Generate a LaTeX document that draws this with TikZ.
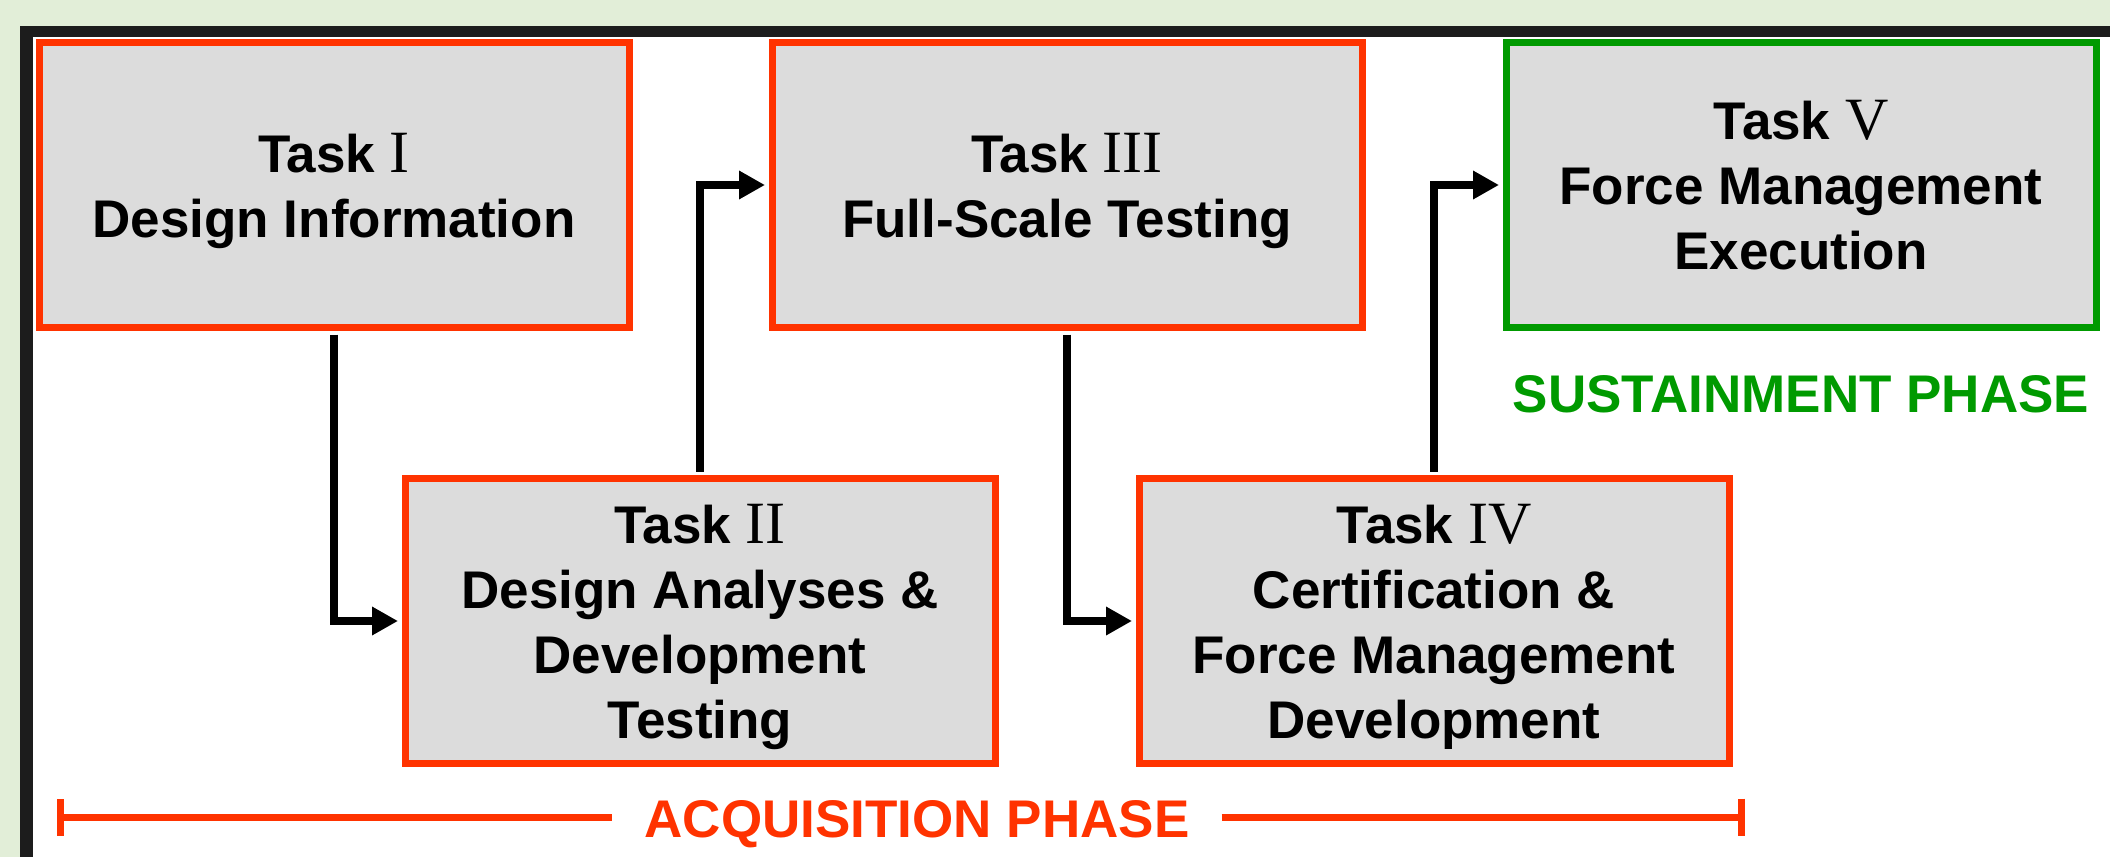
\documentclass[tikz,border=0pt]{standalone}
\usepackage{fontspec}
\usepackage{xcolor}
\setmainfont{Liberation Sans}
\newfontfamily\numeralfont{Liberation Serif}
\usetikzlibrary{arrows.meta}

\definecolor{pagegreen}{HTML}{E2EED8}
\definecolor{framegray}{HTML}{1C1C1C}
\definecolor{boxgray}{HTML}{DCDCDC}
\definecolor{acqred}{HTML}{FF3300}
\definecolor{susgreen}{HTML}{009A00}

\newcommand{\tasknum}[1]{{\fontsize{60}{65}\numeralfont\mdseries #1}}

\tikzset{
	taskbox/.style={draw=acqred, fill=boxgray, line width=7pt, minimum width=590pt, minimum height=285pt,
		align=center, text depth=0pt, font=\fontsize{53}{65}\selectfont\bfseries},
	sustainbox/.style={taskbox, draw=susgreen},
	flowline/.style={line width=8pt, -{Triangle[length=26pt,width=27pt]}, shorten >=3.5pt, shorten <=3.5pt},
	phaselabel/.style={font=\fontsize{53}{63}\selectfont\bfseries, inner sep=0pt}
}

\begin{document}
\begin{tikzpicture}[x=1pt, y=-1pt]
			\useasboundingbox (0,0) rectangle (2110,857);
			% page and frame
			\fill[pagegreen] (0,0) rectangle (2110,857);
			\fill[framegray] (20,26) rectangle (2110,857);
			\fill[white] (33,37) rectangle (2110,857);

			% tasks
			\node[taskbox] (t1) at (334,185) {Task \tasknum{I}\\Design Information};
			\node[taskbox] (t2) at (700,621) {Task \tasknum{II}\\Design Analyses \&\\Development\\Testing};
			\node[taskbox] (t3) at (1067,185) {Task \tasknum{III}\\Full-Scale Testing};
			\node[taskbox] (t4) at (1434,621) {Task \tasknum{IV}\\Certification \&\\Force Management\\Development};
			\node[sustainbox] (t5) at (1801,185) {Task \tasknum{V}\\Force Management\\Execution};

			\draw[flowline] (t1.south) |- (t2.west);
			\draw[flowline] (t2.north) |- (t3.west);
			\draw[flowline] (t3.south) |- (t4.west);
			\draw[flowline] (t4.north) |- (t5.west);

			% phases
			\node[phaselabel, text=susgreen, anchor=base] (sus) at (1801,412) {SUSTAINMENT PHASE};
			\node[phaselabel, text=acqred, anchor=base, inner xsep=32pt] (acq) at (917,837) {ACQUISITION PHASE};
			\coordinate (acqL) at (57,817);
			\coordinate (acqR) at (1745,817);
			\draw[acqred, line width=7pt, {Bar[width=37pt]}-] (acqL) -- (acqL -| acq.west);
			\draw[acqred, line width=7pt, -{Bar[width=37pt]}] (acq.east |- acqR) -- (acqR);
		\end{tikzpicture}
\end{document}
